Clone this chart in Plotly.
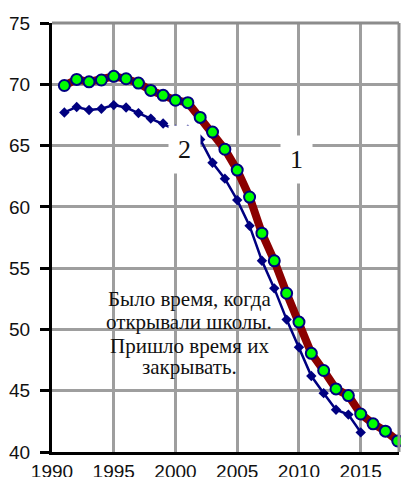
import plotly.graph_objects as go

years1 = list(range(1991, 2019))
series1 = [69.9, 70.4, 70.2, 70.35, 70.65, 70.45, 70.1, 69.5, 69.1, 68.7, 68.5, 67.3,
           66.1, 64.7, 63.0, 60.8, 57.85, 55.6, 52.95, 50.6, 48.05, 46.65, 45.15, 44.6,
           43.1, 42.3, 41.7, 40.9]
years2 = list(range(1991, 2016))
series2 = [67.7, 68.15, 67.9, 68.0, 68.3, 68.1, 67.65, 67.2, 66.8, 66.3, 66.3, 65.5,
           63.6, 62.3, 60.55, 58.45, 55.6, 53.35, 50.8, 48.55, 46.2, 44.8, 43.45, 43.05, 41.6]

x_ticks = [1990, 1995, 2000, 2005, 2010, 2015]
y_ticks = [40, 45, 50, 55, 60, 65, 70, 75]

note_lines = ["Было время, когда", "открывали школы.", "Пришло время их", "закрывать."]
note_y = [52.45, 50.57, 48.62, 46.9]

serif = "Liberation Serif, Times New Roman, serif"

fig = go.Figure()
fig.add_trace(go.Scatter(
    x=years2, y=series2, mode="lines+markers",
    line=dict(color="#000080", width=2.5),
    marker=dict(symbol="diamond", size=8, color="#000080"),
    cliponaxis=False, showlegend=False))
fig.add_trace(go.Scatter(
    x=years1, y=series1, mode="lines+markers",
    line=dict(color="#8b0000", width=8),
    marker=dict(symbol="circle", size=11, color="#00ff00",
                line=dict(color="#000080", width=2)),
    cliponaxis=False, showlegend=False))

annotations = [
    dict(x=2001.1, y=yy, text=t, showarrow=False, yanchor="middle",
         font=dict(family=serif, size=21, color="#111"))
    for t, yy in zip(note_lines, note_y)
]
annotations += [
    dict(x=2000.7, y=64.72, text="2", showarrow=False, bgcolor="white", borderpad=9,
         font=dict(family=serif, size=26, color="#111")),
    dict(x=2009.76, y=63.83, text="1", showarrow=False, bgcolor="white", borderpad=9,
         font=dict(family=serif, size=26, color="#111")),
]

fig.update_layout(
    width=401, height=477,
    margin=dict(l=52, r=2, t=23, b=25),
    plot_bgcolor="white", paper_bgcolor="white",
    font=dict(family="Arial, Liberation Sans, sans-serif", size=19, color="#111"),
    xaxis=dict(range=[1990, 2018.1], tickvals=x_ticks, showgrid=True, automargin=False,
               gridcolor="#9e9e9e", gridwidth=3, showline=True, linecolor="black",
               linewidth=3, ticks="", ticklabelstandoff=0, zeroline=False),
    yaxis=dict(range=[40, 75], tickvals=y_ticks, showgrid=True, automargin=False,
               gridcolor="#9e9e9e", gridwidth=3, showline=True, linecolor="black",
               linewidth=3, ticks="outside", ticklen=9, tickwidth=3, tickcolor="black",
               ticklabelstandoff=6, zeroline=False),
    shapes=[
        dict(type="line", xref="paper", yref="paper", x0=1, x1=1, y0=0, y1=1,
             line=dict(color="#8c8c8c", width=3)),
        dict(type="line", xref="paper", yref="paper", x0=0, x1=1, y0=1, y1=1,
             line=dict(color="#8c8c8c", width=3)),
    ],
    annotations=annotations,
)

fig.write_html(
    "out.html",
    config={"displayModeBar": False},
    post_script="document.body.style.margin='0';document.body.style.overflow='hidden';",
)
